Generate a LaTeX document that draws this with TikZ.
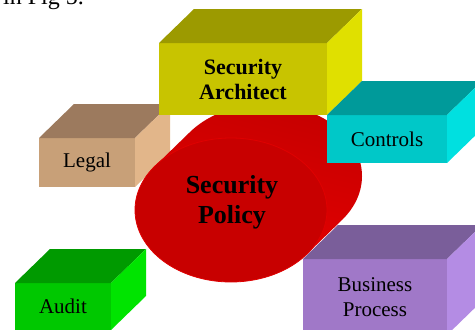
\documentclass[tikz,border=0pt]{standalone}
\usepackage{fontspec}
\setmainfont{Liberation Serif}
\usetikzlibrary{shapes.geometric, calc}
\definecolor{archfront}{HTML}{C8C400}
\definecolor{archtop}{HTML}{9C9A00}
\definecolor{archside}{HTML}{E0E000}
\definecolor{legalfront}{HTML}{C8A078}
\definecolor{legaltop}{HTML}{9C7A5E}
\definecolor{legalside}{HTML}{E2B68A}
\definecolor{ctrlfront}{HTML}{00C8C8}
\definecolor{ctrltop}{HTML}{009A9A}
\definecolor{ctrlside}{HTML}{00E0E0}
\definecolor{auditfront}{HTML}{00C800}
\definecolor{audittop}{HTML}{009A00}
\definecolor{auditside}{HTML}{00E400}
\definecolor{bizfront}{HTML}{A078C8}
\definecolor{biztop}{HTML}{7A5E9A}
\definecolor{bizside}{HTML}{B48CE4}
\definecolor{policyfront}{HTML}{C80000}
\definecolor{policyleft}{HTML}{C40000}
\definecolor{policydark}{HTML}{940000}
\definecolor{policybright}{HTML}{E40000}
\definecolor{policyedge}{HTML}{E00000}

\begin{document}
\begin{tikzpicture}[
    x=1pt, y=-1pt,
    face/.style={rectangle, inner sep=0pt, outer sep=0pt, align=center, font=\fontsize{21}{25}\selectfont},
    boldface/.style={face, font=\fontsize{22}{25}\selectfont\bfseries},
    label/.style={inner sep=0pt, align=center}
]
\clip (0,0) rectangle (475,330);

% Caption remainder
\node[label, anchor=base east, font=\fontsize{24}{28}\selectfont] (figref) at (84,4) {in Fig 5.};

% Legal
\node[face, fill=legalfront, minimum width=96pt, minimum height=49pt] (legal) at (87,162.5) {\raisebox{-3pt}{Legal}};
\fill[legaltop] (legal.north west) -- ++(35,-34) -- ++(96,0) -- (legal.north east) -- cycle;
\fill[legalside] (legal.north east) -- ++(35,-34) -- ++(0,49) -- (legal.south east) -- cycle;

% Business Process
\node[face, fill=bizfront, minimum width=144pt, minimum height=76pt] (biz) at (375,297) {Business\\Process};
\fill[biztop] (biz.north west) -- ++(35,-34) -- ++(144,0) -- (biz.north east) -- cycle;
\fill[bizside] (biz.north east) -- ++(35,-34) -- ++(0,76) -- (biz.south east) -- cycle;

% Security Policy cylinder
\node[ellipse, inner sep=0pt, outer sep=0pt, minimum width=192pt, minimum height=144pt] (policy) at (231,210) {};
\shade[left color=policyleft, middle color=policydark, right color=policybright, shading angle=-15]
    ($(policy.center)+(76.8,43.2)$) -- ++(35,-34)
    arc[start angle=36.87, end angle=-143.13, x radius=96, y radius=72]
    -- ($(policy.center)+(-76.8,-43.2)$) -- cycle;
\filldraw[fill=policyfront, draw=policyedge, line width=0.8pt] (policy.center) ellipse [x radius=96, y radius=72];
\node[label, font=\fontsize{26}{30}\selectfont\bfseries] (policytext) at (232,202) {Security\\Policy};

% Security Architect
\node[boldface, fill=archfront, minimum width=168pt, minimum height=72pt] (arch) at (243,79) {Security\\Architect};
\fill[archtop] (arch.north west) -- ++(35,-34) -- ++(168,0) -- (arch.north east) -- cycle;
\fill[archside] (arch.north east) -- ++(35,-34) -- ++(0,72) -- (arch.south east) -- cycle;

% Controls
\node[face, fill=ctrlfront, minimum width=120pt, minimum height=48pt] (ctrl) at (387,139) {Controls};
\fill[ctrltop] (ctrl.north west) -- ++(35,-34) -- ++(120,0) -- (ctrl.north east) -- cycle;
\fill[ctrlside] (ctrl.north east) -- ++(35,-34) -- ++(0,48) -- (ctrl.south east) -- cycle;

% Audit
\node[face, fill=auditfront, minimum width=96pt, minimum height=47pt] (audit) at (63,306.5) {Audit};
\fill[audittop] (audit.north west) -- ++(35,-34) -- ++(96,0) -- (audit.north east) -- cycle;
\fill[auditside] (audit.north east) -- ++(35,-34) -- ++(0,47) -- (audit.south east) -- cycle;

\end{tikzpicture}
\end{document}
